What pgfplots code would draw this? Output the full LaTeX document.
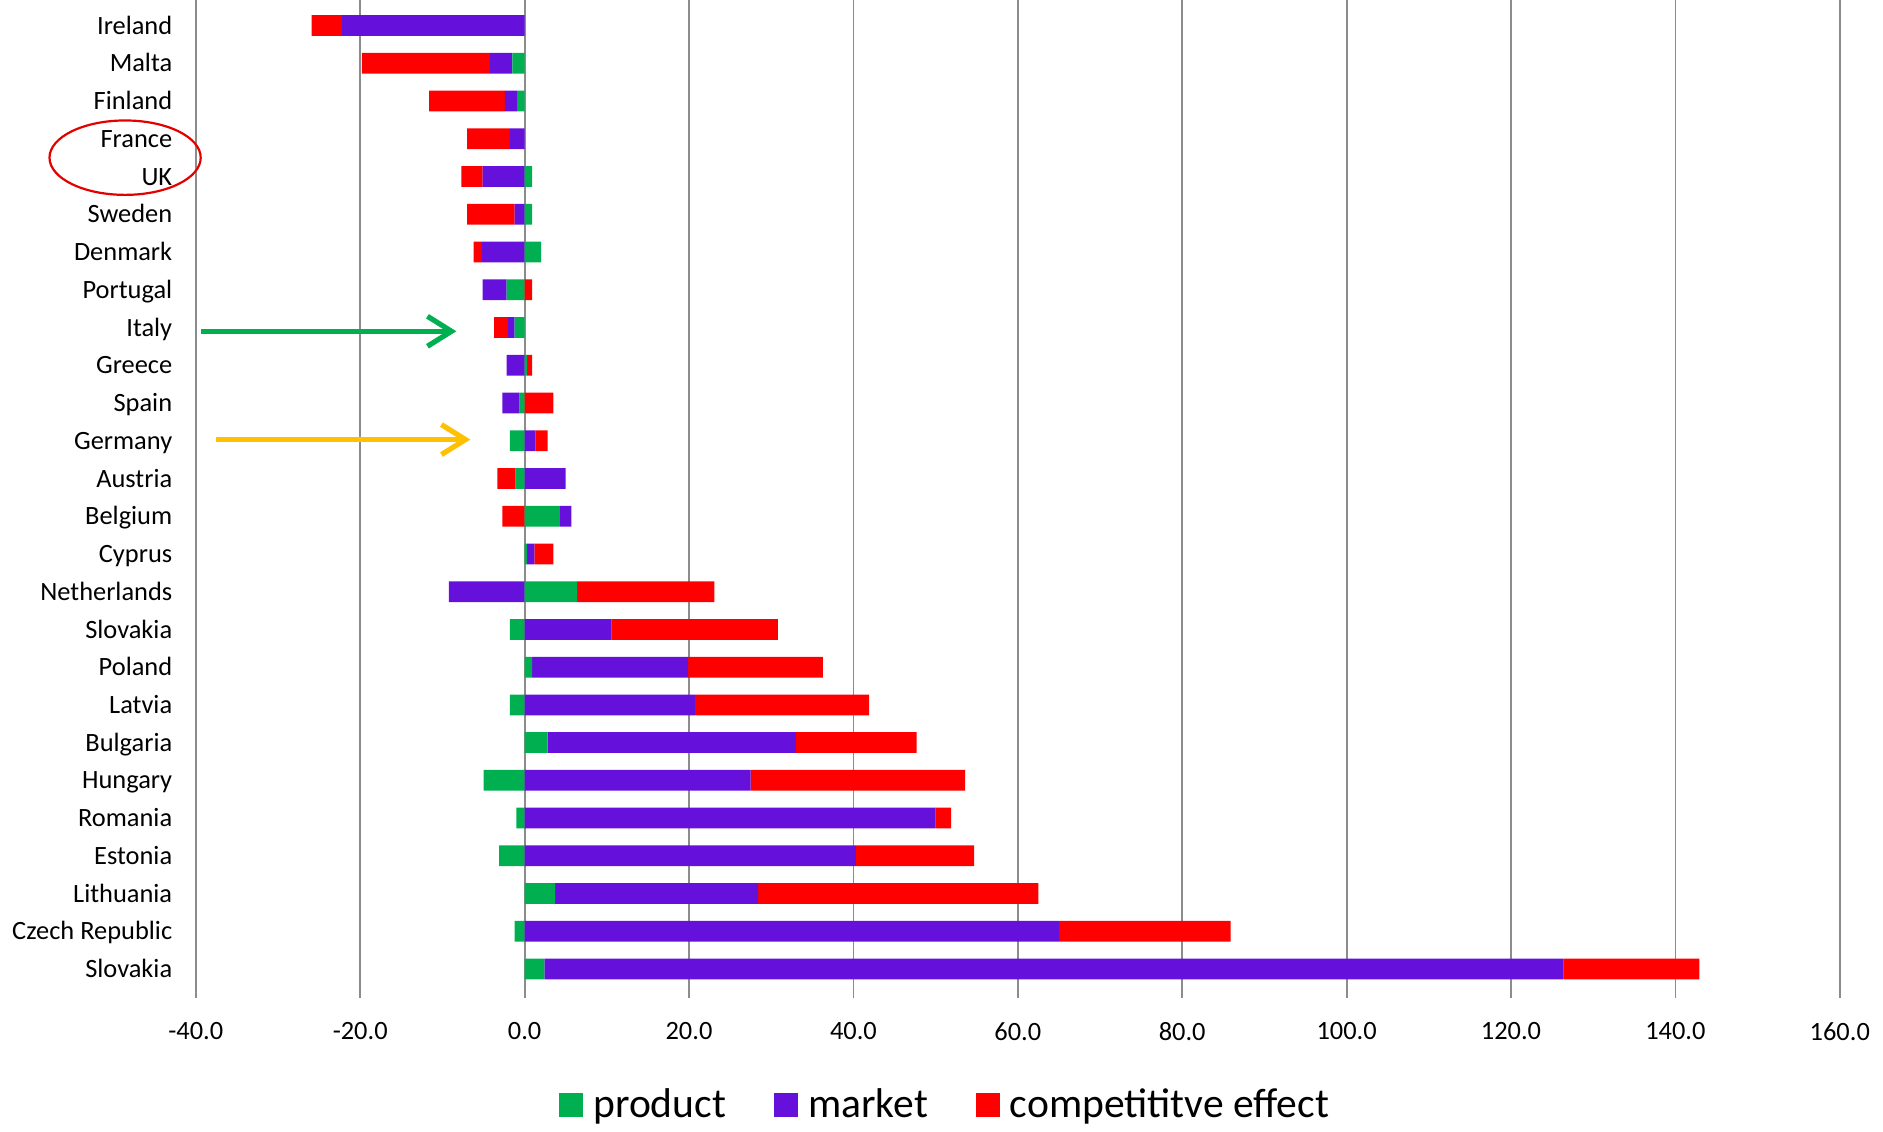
\documentclass[border=0pt]{standalone}
\usepackage{fontspec}
\setmainfont{Carlito}
\usepackage{pgfplots}
\usepackage{pgfplotstable}
\pgfplotsset{compat=1.18}
\usetikzlibrary{arrows.meta}
\definecolor{cprod}{RGB}{0,176,80}
\definecolor{cmark}{RGB}{102,16,220}
\definecolor{ccomp}{RGB}{255,0,0}
\definecolor{cgrid}{RGB}{140,140,140}
\definecolor{carrowg}{RGB}{0,176,80}
\definecolor{carrowy}{RGB}{255,192,0}

\pgfplotstableread{
idx product market comp
0 0.0 -22.2 -3.7
1 -1.5 -2.7 -15.6
2 -0.9 -1.5 -9.2
3 0.0 -1.8 -5.2
4 0.9 -5.1 -2.6
5 0.9 -1.2 -5.8
6 2.0 -5.2 -1.0
7 -2.2 -2.9 0.9
8 -1.2 -0.8 -1.7
9 0.3 -2.2 0.6
10 -0.6 -2.1 3.5
11 -1.8 1.3 1.5
12 -1.1 5.0 -2.2
13 4.3 1.4 -2.7
14 0.3 0.9 2.3
15 6.4 -9.2 16.7
16 -1.8 10.6 20.2
17 0.9 19.0 16.4
18 -1.8 20.7 21.2
19 2.8 30.2 14.7
20 -5.0 27.5 26.1
21 -1.0 50.0 1.9
22 -3.1 40.3 14.4
23 3.7 24.7 34.1
24 -1.2 65.0 20.9
25 2.4 124.0 16.5
}\datatable

\pgfplotsset{base/.style={
  scale only axis, width=822pt, height=490.6pt,
  xmin=-40, xmax=160, ymin=-0.5, ymax=25.5, y dir=reverse,
  xbar stacked, bar width=0.55,
  at={(0pt,0pt)}, anchor=south west,
}}

\begin{document}
\begin{tikzpicture}
\useasboundingbox (-97.9pt,-72pt) rectangle (843.6pt,493.95pt);
\begin{axis}[base,
  clip=false,
  xmajorgrids,
  grid style={cgrid, line width=0.9pt},
  axis line style={draw=none},
  tick align=outside,
  major tick length=5pt,
  xtick={-40,-20,...,160},
  xtick style={cgrid, line width=0.9pt},
  ytick style={draw=none},
  ytick={0,...,25},
  yticklabels={Ireland,Malta,Finland,France,UK,Sweden,Denmark,Portugal,Italy,Greece,Spain,Germany,Austria,Belgium,Cyprus,Netherlands,Slovakia,Poland,Latvia,Bulgaria,Hungary,Romania,Estonia,Lithuania,Czech Republic,Slovakia},
  yticklabel style={font=\fontsize{13.2}{15}\selectfont, anchor=base east, inner sep=0pt, xshift=-6.6pt, yshift=-4.3pt},
  scaled x ticks=false,
  xticklabel style={font=\fontsize{13.2}{15}\selectfont, anchor=north, inner sep=0pt, yshift=-12pt,
    /pgf/number format/fixed, /pgf/number format/fixed zerofill, /pgf/number format/precision=1,
    /pgf/number format/assume math mode=true},
  legend style={at={(axis description cs:0.4565,-0.1193)}, anchor=center, draw=none,
    font=\fontsize{20.8}{24}\selectfont, legend columns=3,
    /tikz/every odd column/.append style={column sep=3pt},
    /tikz/every even column/.append style={column sep=22pt}},
  legend image code/.code={\fill[#1] (0pt,-6pt) rectangle (12pt,6pt);},
]
\addplot[fill=cprod, draw=none] table[x expr={min(\thisrow{product},0)}, y=idx]{\datatable};
\addlegendentry{product}
\addplot[fill=cmark, draw=none] table[x expr={min(\thisrow{market},0)}, y=idx]{\datatable};
\addlegendentry{market}
\addplot[fill=ccomp, draw=none] table[x expr={min(\thisrow{comp},0)}, y=idx]{\datatable};
\addlegendentry{competititve effect}
\draw[red!90!black, line width=1.1pt] (axis cs:-48.6,3.5) ellipse [x radius=37.8pt, y radius=18.6pt];
\draw[carrowg, line width=2.6pt, -{Straight Barb[length=12pt, width=15pt]}] (axis cs:-39.4,8.1) -- (axis cs:-8.3,8.1);
\draw[carrowy, line width=2.6pt, -{Straight Barb[length=12pt, width=15pt]}] (axis cs:-37.5,10.97) -- (axis cs:-6.6,10.97);
\end{axis}
\begin{axis}[base, hide axis]
\addplot[fill=cprod, draw=none] table[x expr={max(\thisrow{product},0)}, y=idx]{\datatable};
\addplot[fill=cmark, draw=none] table[x expr={max(\thisrow{market},0)}, y=idx]{\datatable};
\addplot[fill=ccomp, draw=none] table[x expr={max(\thisrow{comp},0)}, y=idx]{\datatable};
\end{axis}
\end{tikzpicture}
\end{document}
